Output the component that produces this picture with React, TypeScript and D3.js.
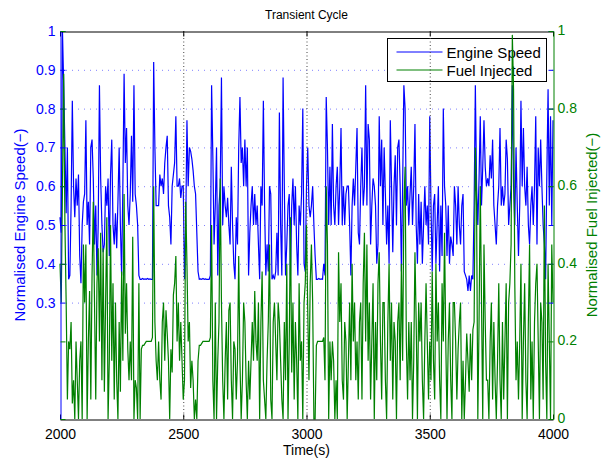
import React, { useEffect, useRef } from 'react';
import * as d3 from 'd3';

// sampled every 5 s from t = 2000 s
const timeStart = 2000;
const timeStep = 5;

const engineSpeed = [
  0.52, 0.48, 1.0, 0.86, 0.7, 0.53, 0.7, 0.36, 0.37, 0.55, 0.82, 0.6, 0.52, 0.62, 0.55, 0.63, 0.42, 0.35, 0.5, 0.56,
  0.58, 0.77, 0.5, 0.56, 0.45, 0.7, 0.72, 0.62, 0.45, 0.55, 0.37, 0.5, 0.86, 0.62, 0.5, 0.43, 0.45, 0.6, 0.55, 0.62,
  0.42, 0.63, 0.72, 0.5, 0.45, 0.53, 0.44, 0.56, 0.7, 0.5, 0.37, 0.6, 0.89, 0.66, 0.75, 0.55, 0.5, 0.58, 0.73, 0.56,
  0.86, 0.58, 0.55, 0.5, 0.37, 0.36, 0.36, 0.362, 0.36, 0.361, 0.36, 0.362, 0.36, 0.361, 0.36, 0.36, 0.92, 0.7, 0.55, 0.55,
  0.55, 0.63, 0.6, 0.62, 0.58, 0.66, 0.7, 0.73, 0.55, 0.52, 0.45, 0.6, 0.63, 0.66, 0.78, 0.6, 0.6, 0.62, 0.57, 0.6,
  0.6, 0.36, 0.5, 0.77, 0.6, 0.7, 0.69, 0.67, 0.64, 0.6, 0.58, 0.48, 0.38, 0.36, 0.361, 0.36, 0.362, 0.36, 0.361, 0.36,
  0.36, 0.36, 0.37, 0.86, 0.68, 0.45, 0.55, 0.7, 0.37, 0.55, 0.6, 0.88, 0.5, 0.6, 0.55, 0.52, 0.57, 0.5, 0.45, 0.65,
  0.5, 0.4, 0.36, 0.52, 0.45, 0.7, 0.83, 0.66, 0.7, 0.6, 0.72, 0.6, 0.7, 0.37, 0.48, 0.55, 0.6, 0.5, 0.58, 0.5,
  0.55, 0.45, 0.36, 0.6, 0.55, 0.82, 0.55, 0.37, 0.45, 0.38, 0.6, 0.58, 0.36, 0.37, 0.36, 0.38, 0.48, 0.37, 0.79, 0.5,
  0.37, 0.88, 0.6, 0.37, 0.45, 0.55, 0.58, 0.37, 0.55, 0.62, 0.5, 0.6, 0.45, 0.37, 0.55, 0.5, 0.58, 0.8, 0.4, 0.38,
  0.6, 0.7, 0.55, 0.52, 0.55, 0.6, 0.5, 0.42, 0.36, 0.36, 0.362, 0.36, 0.361, 0.36, 0.4, 0.37, 0.83, 0.7, 0.5, 0.65,
  0.5, 0.76, 0.55, 0.5, 0.6, 0.65, 0.5, 0.6, 0.75, 0.5, 0.6, 0.5, 0.58, 0.6, 0.6, 0.5, 0.37, 0.55, 0.62, 0.55,
  0.65, 0.75, 0.48, 0.45, 0.6, 0.7, 0.55, 0.6, 0.86, 0.55, 0.76, 0.72, 0.45, 0.55, 0.62, 0.6, 0.55, 0.4, 0.45, 0.78,
  0.6, 0.72, 0.5, 0.7, 0.58, 0.45, 0.55, 0.4, 0.77, 0.6, 0.43, 0.6, 0.68, 0.5, 0.7, 0.72, 0.6, 0.38, 0.6, 0.86,
  0.8, 0.55, 0.6, 0.5, 0.58, 0.65, 0.5, 0.6, 0.76, 0.5, 0.4, 0.58, 0.45, 0.56, 0.4, 0.5, 0.6, 0.5, 0.55, 0.45,
  0.78, 0.55, 0.38, 0.55, 0.58, 0.4, 0.5, 0.6, 0.38, 0.55, 0.42, 0.8, 0.6, 0.55, 0.42, 0.55, 0.4, 0.47, 0.45, 0.42,
  0.6, 0.55, 0.45, 0.6, 0.5, 0.45, 0.55, 0.58, 0.38, 0.37, 0.36, 0.33, 0.37, 0.33, 0.37, 0.36, 0.55, 0.86, 0.6, 0.5,
  0.62, 0.78, 0.55, 0.65, 0.77, 0.65, 0.6, 0.62, 0.6, 0.68, 0.62, 0.72, 0.55, 0.5, 0.45, 0.55, 0.6, 0.75, 0.55, 0.6,
  0.55, 0.58, 0.72, 0.67, 0.5, 0.55, 0.6, 0.86, 0.6, 0.5, 0.7, 0.55, 0.42, 0.55, 0.82, 0.6, 0.75, 0.6, 0.55, 0.65,
  0.5, 0.45, 0.55, 0.6, 0.5, 0.6, 0.78, 0.45, 0.7, 0.6, 0.72, 0.6, 0.5, 0.45, 0.36, 0.63, 0.85, 0.55, 0.78, 0.5, 0.77,
];

const fuelInjected = [
  0.4, 0.3, 0.6, 0.89, 0.5, 0.3, 0.05, 0.2, 0.18, 0.25, 0.04, 0.1, 0, 0.2, 0.1, 0, 0.15, 0.2, 0, 0.45,
  0.3, 0.45, 0, 0.2, 0.33, 0.05, 0.37, 0.56, 0.3, 0.05, 0.35, 0.44, 0.2, 0.48, 0.1, 0.44, 0.07, 0.3, 0.52, 0,
  0.15, 0.5, 0.15, 0.35, 0.05, 0.3, 0.1, 0, 0.25, 0.07, 0.38, 0.15, 0.58, 0.22, 0.35, 0.18, 0.1, 0.2, 0.1, 0.47,
  0, 0.1, 0.08, 0, 0.35, 0, 0.18, 0.19, 0.19, 0.195, 0.2, 0.2, 0.2, 0.2, 0.2, 0.21, 0.6, 0.25, 0.15, 0.1,
  0.2, 0.1, 0.05, 0.25, 0.3, 0.15, 0.28, 0.22, 0.15, 0, 0.18, 0.12, 0.32, 0.35, 0.42, 0.2, 0.3, 0.15, 0.25, 0.15,
  0.05, 0.1, 0.56, 0.4, 0.2, 0.25, 0.08, 0.15, 0.1, 0, 0.05, 0, 0.15, 0.19, 0.19, 0.195, 0.2, 0.2, 0.2, 0.2,
  0.2, 0.2, 0.21, 0.5, 0.1, 0, 0.3, 0, 0.15, 0.25, 0.62, 0.3, 0.1, 0, 0.15, 0.25, 0.05, 0.28, 0.3, 0.1,
  0, 0.2, 0.18, 0.05, 0.15, 0.42, 0.15, 0, 0.1, 0.3, 0.25, 0.1, 0, 0.15, 0.05, 0.15, 0.25, 0.15, 0.33, 0.2,
  0.15, 0.3, 0, 0.25, 0.38, 0.1, 0.05, 0, 0.15, 0.25, 0.45, 0.05, 0, 0.25, 0.3, 0.2, 0.1, 0.3, 0.25, 0.15,
  0.05, 0, 0.25, 0.1, 0.4, 0, 0.2, 0.52, 0.12, 0.3, 0.05, 0.25, 0.15, 0, 0.35, 0.15, 0.2, 0, 0.3, 0.35,
  0.5, 0.28, 0.1, 0.35, 0.45, 0.3, 0, 0, 0.19, 0.2, 0.2, 0.2, 0.2, 0.2, 0.21, 0.1, 0.6, 0.45, 0, 0.2,
  0.1, 0.2, 0.15, 0, 0.1, 0, 0.43, 0.25, 0.35, 0.1, 0.05, 0.25, 0.2, 0, 0.15, 0.3, 0.1, 0.4, 0.2, 0.3,
  0.1, 0.2, 0.05, 0.25, 0.3, 0.05, 0.35, 0.48, 0.2, 0.45, 0.15, 0.3, 0.05, 0.2, 0.35, 0, 0.25, 0.1, 0.35, 0.43,
  0.2, 0.05, 0.3, 0.3, 0.1, 0, 0.25, 0.4, 0.15, 0.3, 0.05, 0.25, 0.2, 0, 0.25, 0.3, 0.1, 0.4, 0.15, 0.55,
  0.65, 0.2, 0.05, 0.25, 0.1, 0.25, 0, 0.15, 0.43, 0.25, 0, 0.3, 0.2, 0.3, 0.1, 0, 0.2, 0.35, 0.2, 0.05,
  0.2, 0.1, 0.38, 0.15, 0.05, 0.4, 0.2, 0.3, 0.1, 0, 0.35, 0.2, 0.48, 0.2, 0, 0.2, 0.3, 0.1, 0, 0.3,
  0.3, 0.2, 0.05, 0.18, 0.25, 0.3, 0, 0.15, 0, 0.1, 0.22, 0.15, 0.07, 0.22, 0.1, 0.23, 0.25, 0.7, 0.55, 0,
  0.25, 0.6, 0.3, 0, 0.45, 0.25, 0.1, 0.1, 0, 0.2, 0.3, 0.05, 0.25, 0.1, 0, 0.15, 0.35, 0.1, 0, 0.25,
  0.05, 0.2, 0.35, 0, 0.3, 0.35, 0.45, 0.99, 0.85, 0.35, 0.1, 0.2, 0.05, 0.2, 0.4, 0, 0.2, 0.35, 0.1, 0,
  0.25, 0.45, 0.05, 0.2, 0, 0.25, 0.35, 0.4, 0.2, 0, 0.3, 0.25, 0.05, 0.55, 0.15, 0, 0.4, 0.2, 0, 0.45, 0.3,
];

const timeTicks = [2000, 2500, 3000, 3500, 4000];
const speedTicks = [0.3, 0.4, 0.5, 0.6, 0.7, 0.8, 0.9, 1];
const fuelTicks = [0, 0.2, 0.4, 0.6, 0.8, 1];
const seriesNames = ['Engine Speed', 'Fuel Injected'];

const BLUE = '#0000ff';
const GREEN = '#008000';
const FONT = '"Liberation Sans", Arial, Helvetica, sans-serif';

const App = () => {
  const ref = useRef(null);

  useEffect(() => {
    const svg = d3.select(ref.current);
    svg.selectAll('*').remove();

    const left = 60, right = 553, top = 31, bottom = 419;

    const x = d3.scaleLinear().domain([2000, 4000]).range([left, right]);
    const ySpeed = d3.scaleLinear().domain([0, 1]).range([bottom, top]);
    const yFuel = d3.scaleLinear().domain([0, 1]).range([bottom, top]);

    const times = engineSpeed.map((_, i) => timeStart + i * timeStep);

    svg.append('rect')
      .attr('width', 608)
      .attr('height', 459)
      .attr('fill', '#fff');

    // horizontal grid (left axis)
    svg.append('g')
      .selectAll('line')
      .data(speedTicks.filter(d => d < 1))
      .enter().append('line')
      .attr('x1', left)
      .attr('x2', right)
      .attr('y1', d => ySpeed(d) + 0.5)
      .attr('y2', d => ySpeed(d) + 0.5)
      .attr('stroke', '#8080ff')
      .attr('stroke-width', 1)
      .attr('stroke-dasharray', '1,5');

    const speedLine = d3.line()
      .x((d, i) => x(times[i]))
      .y(d => ySpeed(d));

    svg.append('path')
      .datum(engineSpeed)
      .attr('d', speedLine)
      .attr('fill', 'none')
      .attr('stroke', BLUE)
      .attr('stroke-width', 1.2);

    // legend (belongs to left axes, so the green trace sits over it)
    const legend = svg.append('g').attr('transform', 'translate(387.5,38.5)');
    legend.append('rect')
      .attr('width', 159)
      .attr('height', 43)
      .attr('fill', '#fff')
      .attr('stroke', '#000');
    legend.selectAll('.legend-item')
      .data(seriesNames)
      .enter().append('g')
      .attr('class', 'legend-item')
      .attr('transform', (d, i) => `translate(0,${13.5 + i * 18})`)
      .each(function (d, i) {
        const item = d3.select(this);
        item.append('line')
          .attr('x1', 9)
          .attr('x2', 55)
          .attr('stroke', i === 0 ? BLUE : GREEN)
          .attr('stroke-width', 1);
        item.append('text')
          .attr('x', 59)
          .attr('y', 5.5)
          .attr('font-family', FONT)
          .attr('font-size', 15)
          .attr('fill', '#000')
          .text(d);
      });

    // vertical grid
    svg.append('g')
      .selectAll('line')
      .data(timeTicks.slice(1, -1))
      .enter().append('line')
      .attr('x1', d => x(d) + 0.5)
      .attr('x2', d => x(d) + 0.5)
      .attr('y1', top)
      .attr('y2', bottom)
      .attr('stroke', '#444')
      .attr('stroke-width', 1)
      .attr('stroke-dasharray', '1,2.5');

    const fuelLine = d3.line()
      .x((d, i) => x(times[i]))
      .y(d => yFuel(d));

    svg.append('path')
      .datum(fuelInjected)
      .attr('d', fuelLine)
      .attr('fill', 'none')
      .attr('stroke', GREEN)
      .attr('stroke-width', 1.2);

    const styleAxis = (g, color) => {
      g.attr('font-family', FONT).attr('font-size', 14);
      g.selectAll('path').attr('stroke', color);
      g.selectAll('line').attr('stroke', color);
      g.selectAll('text').attr('fill', color);
    };

    // x axes (bottom with labels, top mirrored)
    svg.append('g')
      .attr('transform', `translate(0,${bottom + 0.5})`)
      .call(d3.axisBottom(x).tickValues(timeTicks).tickSizeInner(-5).tickSizeOuter(0).tickPadding(10).tickFormat(d3.format('d')))
      .call(g => styleAxis(g, '#000'));

    svg.append('g')
      .attr('transform', `translate(0,${top + 0.5})`)
      .call(d3.axisTop(x).tickValues(timeTicks).tickSizeInner(-5).tickSizeOuter(0).tickFormat(() => ''))
      .call(g => styleAxis(g, '#000'));

    // left axis (engine speed) + mirrored ticks on the right
    svg.append('g')
      .attr('transform', `translate(${right + 0.5},0)`)
      .call(d3.axisRight(ySpeed).tickValues(speedTicks).tickSizeInner(-5).tickSizeOuter(0).tickFormat(() => ''))
      .call(g => styleAxis(g, BLUE))
      .call(g => g.select('.domain').remove());

    svg.append('g')
      .attr('transform', `translate(${left + 0.5},0)`)
      .call(d3.axisLeft(ySpeed).tickValues(speedTicks).tickSizeInner(-5).tickSizeOuter(0).tickPadding(5).tickFormat(d => `${d}`))
      .call(g => styleAxis(g, BLUE));

    // right axis (fuel) + mirrored ticks on the left
    svg.append('g')
      .attr('transform', `translate(${left + 0.5},0)`)
      .call(d3.axisLeft(yFuel).tickValues(fuelTicks).tickSizeInner(-5).tickSizeOuter(0).tickFormat(() => ''))
      .call(g => styleAxis(g, GREEN))
      .call(g => g.select('.domain').remove());

    svg.append('g')
      .attr('transform', `translate(${right + 0.5},0)`)
      .call(d3.axisRight(yFuel).tickValues(fuelTicks).tickSizeInner(-5).tickSizeOuter(0).tickPadding(4).tickFormat(d => `${d}`))
      .call(g => styleAxis(g, GREEN))
      .call(g => g.selectAll('text').attr('dy', '0.25em'));

    // titles
    svg.append('text')
      .attr('x', (left + right) / 2)
      .attr('y', 19)
      .attr('text-anchor', 'middle')
      .attr('font-family', FONT)
      .attr('font-size', 12)
      .text('Transient Cycle');

    svg.append('text')
      .attr('x', (left + right) / 2)
      .attr('y', 455)
      .attr('text-anchor', 'middle')
      .attr('font-family', FONT)
      .attr('font-size', 14)
      .text('Time(s)');

    svg.append('text')
      .attr('transform', `translate(25,${(top + bottom) / 2}) rotate(-90)`)
      .attr('text-anchor', 'middle')
      .attr('font-family', FONT)
      .attr('font-size', 15)
      .attr('fill', BLUE)
      .text('Normalised Engine Speed(\u2212)');

    svg.append('text')
      .attr('transform', `translate(597,${(top + bottom) / 2}) rotate(-90)`)
      .attr('text-anchor', 'middle')
      .attr('font-family', FONT)
      .attr('font-size', 15)
      .attr('fill', GREEN)
      .text('Normalised Fuel Injected(\u2212)');
  }, []);

  return (
    <svg
      ref={ref}
      width={608}
      height={459}
      style={{ position: 'absolute', left: 0, top: 0, display: 'block' }}
    />
  );
};

export default App;
